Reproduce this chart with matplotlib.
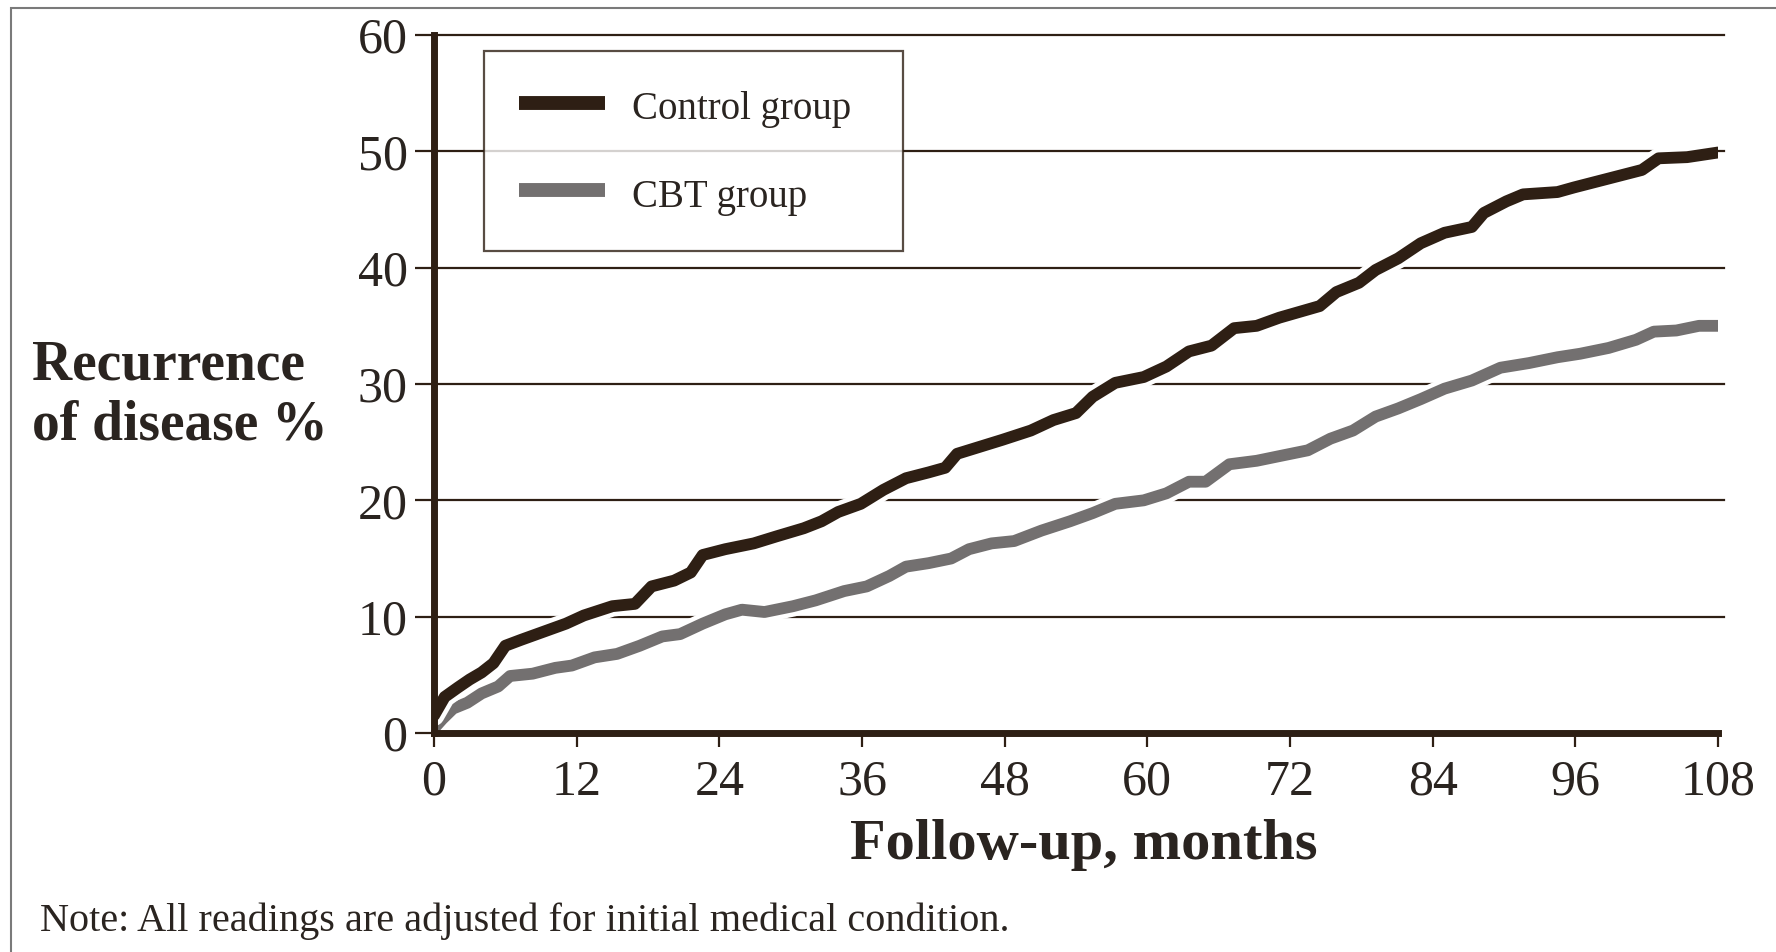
import matplotlib
matplotlib.use('Agg')
import matplotlib.pyplot as plt
import matplotlib.patheffects as pe
from matplotlib.patches import Rectangle

# Meses de seguimiento y % de recurrencia
mesesControl = [0, 0.9, 2, 3, 4, 5, 6, 7.3, 9.2, 11.1, 12.6, 15, 16.9, 18.3, 20.2, 21.6,
                22.6, 24.5, 26.9, 28.8, 31.1, 32.6, 34, 35.9, 37.8, 39.7, 41.6, 43, 44,
                45.9, 47.8, 50.2, 52.1, 54, 55.4, 57.3, 59.7, 61.6, 63.5, 65.4, 67.3,
                69.2, 71.1, 74.5, 75.9, 77.8, 79.2, 81.1, 83, 85, 87.3, 88.3, 90.2,
                91.6, 94.5, 95.9, 97.8, 99.7, 101.6, 103, 105.4, 108]
control = [1.5, 3.1, 3.9, 4.6, 5.2, 6.0, 7.5, 8.0, 8.7, 9.4, 10.1, 10.9, 11.1, 12.6,
           13.1, 13.8, 15.3, 15.8, 16.3, 16.9, 17.6, 18.2, 19.0, 19.7, 20.9, 21.9,
           22.4, 22.8, 24.0, 24.6, 25.2, 26.0, 26.9, 27.5, 28.9, 30.1, 30.6, 31.5,
           32.8, 33.3, 34.8, 35.0, 35.7, 36.7, 37.9, 38.7, 39.8, 40.8, 42.1, 43.0,
           43.5, 44.7, 45.7, 46.3, 46.5, 46.9, 47.4, 47.9, 48.4, 49.4, 49.5, 49.9]

mesesCBT = [0, 0.7, 1.6, 2.8, 4, 5.4, 6.4, 8.3, 10.2, 11.6, 13.5, 15.4, 17.3, 19.2,
            20.7, 22.6, 24.5, 25.9, 27.8, 30.2, 32.1, 34.5, 36.4, 38.3, 39.7, 41.6,
            43.5, 45, 46.9, 48.8, 51.1, 53.5, 55.4, 57.3, 59.7, 61.6, 63.5, 64.9,
            66.9, 69.2, 71.1, 73.5, 75.4, 77.3, 79.2, 81.1, 83, 85, 87.3, 89.7, 92.1,
            94.5, 96.4, 98.8, 101.1, 102.6, 104.5, 106.4, 108]
cbt = [0.4, 1.2, 2.1, 2.6, 3.4, 4.0, 4.9, 5.1, 5.6, 5.8, 6.5, 6.8, 7.5, 8.3, 8.5, 9.4,
       10.2, 10.6, 10.4, 10.9, 11.4, 12.2, 12.6, 13.5, 14.3, 14.6, 15.0, 15.8, 16.3,
       16.5, 17.4, 18.2, 18.9, 19.7, 20.0, 20.6, 21.6, 21.6, 23.1, 23.4, 23.8, 24.3,
       25.3, 26.0, 27.2, 27.9, 28.7, 29.6, 30.3, 31.4, 31.8, 32.3, 32.6, 33.1, 33.8,
       34.5, 34.6, 35.0, 35.0]

xTicks = [0, 12, 24, 36, 48, 60, 72, 84, 96, 108]
yTicks = [0, 10, 20, 30, 40, 50, 60]

oscuro = '#2e1f14'
gris = '#737070'
texto = '#2a2420'

plt.rcParams['font.family'] = 'Liberation Serif'

fig = plt.figure(figsize=(17.76, 9.52), dpi=100)
ax = fig.add_axes([434/1776, 1 - 733/952, (1718 - 434)/1776, (733 - 35)/952])

# Lineas de cuadricula (un poco mas largas que el eje)
for y in yTicks[1:]:
    ax.axhline(y, xmin=0, xmax=1.005, color=oscuro, lw=1.6, clip_on=False, zorder=1)

halo = [pe.Stroke(linewidth=15, foreground='white'), pe.Normal()]
ax.plot(mesesCBT, cbt, color=gris, lw=8.5, label='CBT group',
        solid_capstyle='round', solid_joinstyle='round', path_effects=halo, zorder=3)
ax.plot(mesesControl, control, color=oscuro, lw=8.5, label='Control group',
        solid_capstyle='round', solid_joinstyle='round', path_effects=halo, zorder=4)

ax.set_xlim(0, 108)
ax.set_ylim(0, 60)
ax.set_xticks(xTicks)
ax.set_yticks(yTicks)
for s in ['top', 'right']:
    ax.spines[s].set_visible(False)
for s in ['left', 'bottom']:
    ax.spines[s].set_linewidth(5)
    ax.spines[s].set_color(oscuro)
    ax.spines[s].set_zorder(5)
ax.tick_params(axis='y', direction='out', length=14, width=1.6, color=oscuro,
               labelsize=36, labelcolor=texto, pad=5)
ax.tick_params(axis='x', direction='out', length=10, width=1.6, color=oscuro,
               labelsize=36, labelcolor=texto, pad=9)

# Leyenda con ancho fijo (caja de 419 px)
handles, labels = ax.get_legend_handles_labels()
leg = ax.legend(handles[::-1], labels[::-1], loc='upper left',
                bbox_to_anchor=(484/1776, 1 - 251/952, 419/1776, 200/952),
                bbox_transform=fig.transFigure, mode='expand',
                borderaxespad=0, fontsize=28, frameon=True, fancybox=False,
                handlelength=2.2, handletextpad=0.7, borderpad=0.9,
                handleheight=1.2, labelspacing=1.18)
leg.get_frame().set_edgecolor(oscuro)
leg.get_frame().set_linewidth(1.6)
leg.set_zorder(6)
for h in leg.legend_handles:
    h.set_solid_capstyle('butt')
    h.set_path_effects([])
    h.set_linewidth(10)
for t in leg.get_texts():
    t.set_color(texto)

fig.text(32/1776, 1 - 395/952, 'Recurrence\nof disease %', ha='left', va='center',
         fontsize=40, fontweight='bold', color=texto, linespacing=1.2)
fig.text(1084/1776, 1 - 845/952, 'Follow-up, months', ha='center', va='center',
         fontsize=42, fontweight='bold', color=texto)
fig.text(40/1776, 1 - 921/952, 'Note: All readings are adjusted for initial medical condition.',
         ha='left', va='center', fontsize=29, color=texto)

# Marco exterior (solo se ven el borde izquierdo y el superior)
fig.patches.append(Rectangle((11/1776, -0.1), 1.2, 1.1 - 8/952, transform=fig.transFigure,
                             fill=False, edgecolor='#7a7a7a', lw=1.5))

fig.savefig('out.png', dpi=100)
